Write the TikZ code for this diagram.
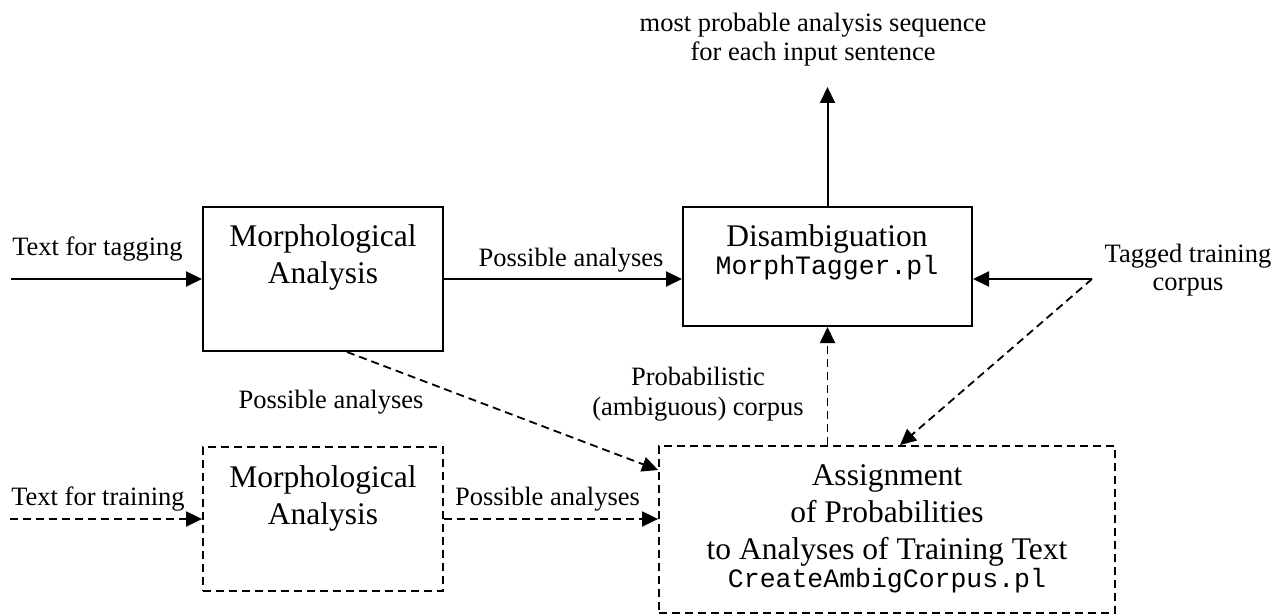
\documentclass[tikz,border=0pt]{standalone}
\usepackage{fontspec}
\setmainfont{Liberation Serif}
\setmonofont{Liberation Mono}
\usetikzlibrary{arrows.meta}
\begin{document}
\begin{tikzpicture}[x=1pt,y=-1pt,
  solidbox/.style={draw, line width=2pt, inner sep=0pt},
  dashbox/.style={draw, line width=1.8pt, inner sep=0pt, dash pattern=on 8pt off 5pt},
  conn/.style={line width=2pt, -{Triangle[length=16pt,width=15pt]}},
  dconn/.style={line width=1.8pt, dash pattern=on 8pt off 5pt, -{Triangle[length=16pt,width=15pt]}},
  small/.style={anchor=base, inner sep=0pt, font=\fontsize{26.5}{30}\selectfont},
  big/.style={anchor=base, inner sep=0pt, font=\fontsize{31.5}{37}\selectfont},
  mono/.style={anchor=base, inner sep=0pt, font=\fontsize{26.5}{30}\selectfont\ttfamily}
]
\useasboundingbox (0,0) rectangle (1278,615);

% boxes
\node[solidbox, minimum width=240pt, minimum height=144pt] (ma) at (323,279) {};
\node[solidbox, minimum width=289pt, minimum height=119pt] (dis) at (827.5,266.5) {};
\node[dashbox, minimum width=240pt, minimum height=144pt] (mc) at (323,519) {};
\node[dashbox, minimum width=456pt, minimum height=167pt] (asg) at (887,529.5) {};

% box texts
\node[big] (ma1) at (323,246) {Morphological};
\node[big] (ma2) at (323,283) {Analysis};
\node[big] (dis1) at (827,247) {Disambiguation};
\node[mono] (dis2) at (827,274) {MorphTagger.pl};
\node[big] (mc1) at (323,487) {Morphological};
\node[big] (mc2) at (323,524) {Analysis};
\node[big] (asg1) at (887,485) {Assignment};
\node[big] (asg2) at (887,522) {of Probabilities};
\node[big] (asg3) at (887,559) {to Analyses of Training Text};
\node[mono] (asg4) at (887,587) {CreateAmbigCorpus.pl};

% free-end coordinates
\coordinate (intag) at (11,279);
\coordinate (intrain) at (10,519);
\coordinate (out) at (827.5,87);
\coordinate (tc) at (1092,279);

% labels
\node[small] (lout1) at (813,32) {most probable analysis sequence};
\node[small] (lout2) at (813,61) {for each input sentence};
\node[small] (ltag) at (97.5,255) {Text for tagging};
\node[small] (lpa1) at (571,266) {Possible analyses};
\node[small] (ltc1) at (1188,262) {Tagged training};
\node[small] (ltc2) at (1188,290) {corpus};
\node[small] (lpa2) at (331,408) {Possible analyses};
\node[small] (lpr1) at (698,385) {Probabilistic};
\node[small] (lpr2) at (698,415) {(ambiguous) corpus};
\node[small] (ltrain) at (98,505) {Text for training};
\node[small] (lpa3) at (547.5,505) {Possible analyses};

% connectors
\draw[conn] (intag) -- (ma.west);
\draw[conn] (ma.east) -- (ma.east -| dis.west);
\draw[conn] (dis.north) -- (out);
\draw[conn] (tc) -- (tc -| dis.east);
\draw[dconn] (tc) -- ([xshift=13pt]asg.north);
\draw[dconn] (dis.south |- asg.north) -- (dis.south);
\draw[dconn] ([xshift=24pt]ma.south) -- ([yshift=59.5pt]asg.west);
\draw[dconn] (intrain) -- (mc.west);
\draw[dconn] (mc.east) -- (mc.east -| asg.west);
\end{tikzpicture}
\end{document}
